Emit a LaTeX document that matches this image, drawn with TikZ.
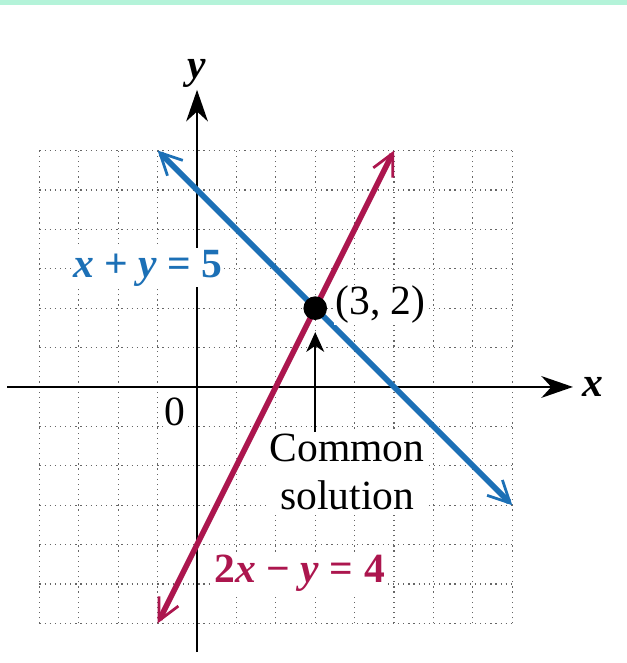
\documentclass[tikz,border=0pt]{standalone}
\usepackage{fontspec}
\setmainfont{Liberation Serif}
\usetikzlibrary{arrows.meta}

\definecolor{lineblue}{RGB}{28,112,182}
\definecolor{linered}{RGB}{172,22,78}
\definecolor{bandteal}{RGB}{180,243,217}

\begin{document}
\begin{tikzpicture}[>=Stealth,
  gridline/.style={black!60, line width=0.9pt, dash pattern=on 0.9pt off 2.8pt},
  axis/.style={line width=2.1pt, -{Stealth[length=8mm, width=5.5mm, inset=2.5mm]}},
  graph line/.style={line width=4pt, {Straight Barb[length=5.5mm, width=5.5mm, line width=2pt]}-{Straight Barb[length=5.5mm, width=5.5mm, line width=2pt]}},
  label/.style={fill=white, inner sep=1pt, font=\fontsize{30}{35}\selectfont},
  eqn/.style={label, font=\fontsize{30}{35}\selectfont\bfseries},
  axis label/.style={inner sep=1pt, font=\fontsize{30}{35}\selectfont\bfseries\itshape}]
  \useasboundingbox (-5,-7.005) rectangle (10.91,9.82);
  \fill[bandteal] (-5,9.69) rectangle (10.91,9.82);

  % Grid and axes
  \draw[gridline] (-4,-6) grid (8,6);
  \node[axis label] (xlabel) at (10.05,0) {x};
  \node[axis label] (ylabel) at (0,7.95) {y};
  \coordinate (xstart) at (-4.82,0);
  \coordinate (xend) at (9.54,0);
  \coordinate (ystart) at (0,-6.73);
  \coordinate (yend) at (0,7.54);
  \draw[axis] (xstart) -- (xend);
  \draw[axis] (ystart) -- (yend);

  % The two lines
  \coordinate (sumA) at (-1,6);
  \coordinate (sumB) at (8,-3);
  \coordinate (diffA) at (-1,-6);
  \coordinate (diffB) at (5,6);
  \draw[graph line, lineblue] (sumA) -- (sumB);
  \draw[graph line, linered] (diffA) -- (diffB);

  \node[circle, fill=black, inner sep=0pt, minimum size=6mm] (sol) at (3,2) {};

  \node[eqn, text=lineblue] (sumlabel) at (-1.24,3.02) {\textit{x} + \textit{y} = 5};
  \node[eqn, text=linered] (difflabel) at (2.61,-4.72) {2\textit{x} − \textit{y} = 4};
  \node[label, anchor=west] (point) at (3.47,2.08) {(3, 2)};
  \node[label, align=center] (common) at (3.81,-2.16) {Common\\solution};
  \node[label] (origin) at (-0.56,-0.63) {0};

  \draw[line width=1.8pt, -{Stealth[length=5mm, width=4.5mm, inset=1.5mm]}, shorten >=3mm]
    (common.north -| sol) -- (sol.south);
\end{tikzpicture}
\end{document}
